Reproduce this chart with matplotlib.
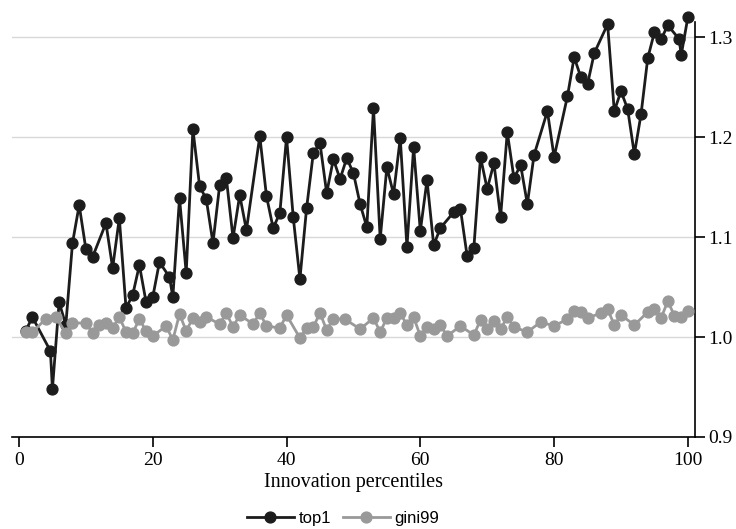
import matplotlib
matplotlib.use('Agg')
import matplotlib.pyplot as plt

# top1 series (percentile, ratio)
top1_x = [1, 2, 4.7, 5.0, 6, 7, 8, 9, 10, 11, 13, 14, 15, 16, 17, 18, 19, 20, 21,
          22.5, 23, 24, 25, 26, 27, 28, 29, 30, 31, 32, 33, 34, 36, 37, 38, 39, 40,
          41, 42, 43, 44, 45, 46, 47, 48, 49, 50, 51, 52, 53, 54, 55, 56, 57, 58,
          59, 60, 61, 62, 63, 65, 66, 67, 68, 69, 70, 71, 72, 73, 74, 75, 76, 77,
          79, 80, 82, 83, 84, 85, 86, 88, 89, 90, 91, 92, 93, 94, 95, 96, 97,
          98.7, 99, 100]
top1_y = [1.006, 1.020, 0.986, 0.948, 1.035, 1.012, 1.094, 1.132, 1.088, 1.080,
          1.114, 1.069, 1.119, 1.029, 1.042, 1.072, 1.035, 1.040, 1.075, 1.060,
          1.040, 1.139, 1.064, 1.208, 1.151, 1.138, 1.094, 1.152, 1.159, 1.099,
          1.142, 1.107, 1.201, 1.141, 1.109, 1.124, 1.200, 1.120, 1.058, 1.129,
          1.184, 1.194, 1.144, 1.178, 1.158, 1.179, 1.164, 1.133, 1.110, 1.229,
          1.098, 1.170, 1.143, 1.199, 1.090, 1.190, 1.106, 1.157, 1.092, 1.109,
          1.125, 1.128, 1.081, 1.089, 1.180, 1.148, 1.174, 1.120, 1.205, 1.159,
          1.172, 1.133, 1.182, 1.226, 1.180, 1.241, 1.280, 1.260, 1.253, 1.284,
          1.313, 1.226, 1.246, 1.228, 1.183, 1.223, 1.279, 1.305, 1.298, 1.312,
          1.298, 1.282, 1.320]

# gini99 series
gini_x = [1, 2, 4, 5.5, 7, 8, 10, 11, 12, 13, 14, 15, 16, 17, 18, 19, 20, 22, 23,
          24, 25, 26, 27, 28, 30, 31, 32, 33, 35, 36, 37, 39, 40, 42, 43, 44, 45,
          46, 47, 48.7, 51, 53, 54, 55, 56, 57, 58, 59, 60, 61, 62, 63, 64, 66,
          68, 69, 70, 71, 72, 73, 74, 76, 78, 80, 82, 83, 84, 85, 87, 88, 89, 90,
          92, 94, 95, 96, 97, 98, 99, 100]
gini_y = [1.005, 1.005, 1.018, 1.020, 1.004, 1.014, 1.014, 1.004, 1.012, 1.014,
          1.009, 1.020, 1.005, 1.004, 1.018, 1.006, 1.001, 1.011, 0.997, 1.023,
          1.006, 1.019, 1.015, 1.020, 1.013, 1.024, 1.010, 1.022, 1.013, 1.024,
          1.011, 1.009, 1.022, 0.999, 1.009, 1.010, 1.024, 1.007, 1.018, 1.018,
          1.008, 1.019, 1.005, 1.019, 1.019, 1.024, 1.012, 1.020, 1.001, 1.010,
          1.008, 1.012, 1.001, 1.011, 1.002, 1.017, 1.008, 1.016, 1.008, 1.020,
          1.010, 1.005, 1.015, 1.011, 1.018, 1.026, 1.025, 1.019, 1.024, 1.028,
          1.012, 1.022, 1.012, 1.025, 1.028, 1.019, 1.036, 1.021, 1.020, 1.026]

x_ticks = [0, 20, 40, 60, 80, 100]
y_ticks = [0.9, 1.0, 1.1, 1.2, 1.3]

SERIF = 'Liberation Serif'
C_TOP = '#1c1c1c'
C_GINI = '#999999'

fig = plt.figure(figsize=(7.36, 5.29), dpi=100)
ax = fig.add_axes([0.0167, 0.174, 0.927, 0.784])

ax.plot(top1_x, top1_y, '-o', color=C_TOP, lw=2.0, markersize=7.8,
        label='top1', clip_on=False, zorder=3)
ax.plot(gini_x, gini_y, '-o', color=C_GINI, lw=2.0, markersize=7.8,
        label='gini99', clip_on=False, zorder=4)

ax.set_xlim(-1, 101)
ax.set_ylim(0.9, 1.315)
ax.set_xticks(x_ticks)
ax.set_yticks(y_ticks)
ax.set_yticklabels([f'{v:.1f}' for v in y_ticks])

for v in y_ticks[1:]:
    ax.axhline(v, color='#d8d8d8', lw=1, zorder=1)

ax.yaxis.tick_right()
ax.spines['top'].set_visible(False)
ax.spines['left'].set_visible(False)
ax.spines['right'].set_linewidth(1.2)
ax.spines['bottom'].set_linewidth(1.2)
ax.tick_params(axis='both', direction='out', length=7, width=1.2,
               labelsize=14)
ax.tick_params(axis='x', pad=4)
ax.tick_params(axis='y', pad=3)
for lab in ax.get_xticklabels() + ax.get_yticklabels():
    lab.set_fontfamily(SERIF)

ax.set_xlabel('Innovation percentiles', fontsize=14.5, family=SERIF, labelpad=3)

ax.legend(loc='center', bbox_to_anchor=(0.485, -0.197), ncol=2,
          frameon=False, handlelength=2.8, columnspacing=0.7,
          handletextpad=0.3, prop={'family': 'Liberation Sans', 'size': 12})

fig.savefig('out.png', dpi=100, facecolor='white')
